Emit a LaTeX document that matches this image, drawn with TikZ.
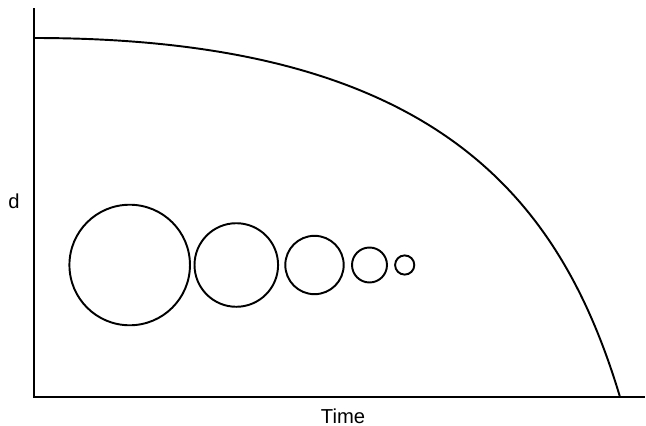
\documentclass[tikz,border=0pt]{standalone}
\usepackage{fontspec}
\setmainfont{Liberation Sans}
\usetikzlibrary{positioning}

\begin{document}
\begin{tikzpicture}[
    x=0.02cm,
    y=-0.02cm,
    axis/.style={
        draw=black,
        line width=1.1pt
    },
    decay/.style={
        draw=black,
        line width=1.1pt
    },
    bubble/.style={
        circle,
        draw=black,
        line width=1.1pt,
        inner sep=0pt
    },
    label/.style={
        font=\fontsize{11.5}{13}\selectfont,
        inner sep=0pt,
        anchor=base
    }
]

% Frame
\useasboundingbox (0,0) rectangle (646,426);

% Axes
\coordinate (origin) at (34,397);
\coordinate (ytop) at (34,8);
\coordinate (xend) at (645,397);
\draw[axis] (ytop) -- (origin) -- (xend);

% Labels
\node[label] (ylab) at (14,208) {d};
\node[label] (xlab) at (343,423) {Time};

% Decay curve
\coordinate (start) at (34,38);
\coordinate (stop) at (620,397);
\draw[decay] (start) .. controls (435,38) and (560,197) .. (stop);

% Shrinking bubbles
\foreach \cx/\r [count=\i] in {129.7/60.3, 236.3/41.8, 314.5/29.2, 369.5/17.5, 404.7/9.6}
    \node[bubble, minimum size=0.04cm*\r] (b\i) at (\cx,265) {};

\end{tikzpicture}
\end{document}
